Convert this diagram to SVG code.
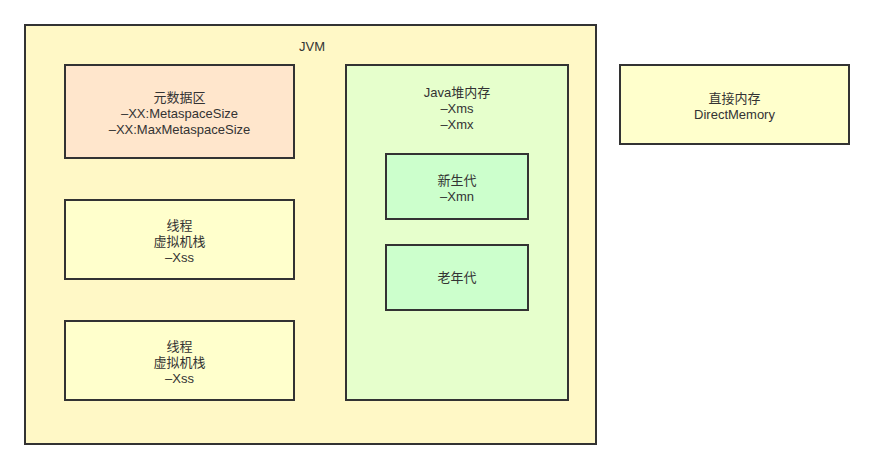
<svg xmlns="http://www.w3.org/2000/svg" width="874" height="469" viewBox="0 0 874 469">
<style>
rect{stroke:#333;stroke-width:2}
text{font-family:"Liberation Sans","Noto Sans CJK SC",sans-serif;font-size:13px;fill:#333;text-anchor:middle;dominant-baseline:central}
</style>
<rect x="0" y="0" width="874" height="469" fill="#fff" style="stroke:none"/>
<g id="jvm"><rect x="25" y="25" width="571" height="419" fill="#fff8c6"/><text x="312" y="46">JVM</text></g>
<g id="metaspace"><rect x="65" y="65" width="229" height="93" fill="#ffe6cc"/><text x="179.5" y="97">元数据区</text><text x="179.5" y="113">–XX:MetaspaceSize</text><text x="179.5" y="129">–XX:MaxMetaspaceSize</text></g>
<g id="thread1"><rect x="65" y="200" width="229" height="79" fill="#ffffcc"/><text x="179.5" y="225">线程</text><text x="179.5" y="241">虚拟机栈</text><text x="179.5" y="257">–Xss</text></g>
<g id="thread2"><rect x="65" y="321" width="229" height="79" fill="#ffffcc"/><text x="179.5" y="346">线程</text><text x="179.5" y="362">虚拟机栈</text><text x="179.5" y="378">–Xss</text></g>
<g id="heap"><rect x="346" y="65" width="222" height="335" fill="#e6ffcc"/><text x="457" y="92">Java堆内存</text><text x="457" y="108">–Xms</text><text x="457" y="124">–Xmx</text></g>
<g id="young"><rect x="386" y="154" width="142" height="65" fill="#ccffcc"/><text x="457" y="180">新生代</text><text x="457" y="196">–Xmn</text></g>
<g id="old"><rect x="386" y="245" width="142" height="65" fill="#ccffcc"/><text x="457" y="277">老年代</text></g>
<g id="direct"><rect x="620" y="65" width="229" height="79" fill="#ffffcc"/><text x="734.5" y="98">直接内存</text><text x="734.5" y="114">DirectMemory</text></g>
<g id="connectors"></g>
</svg>
